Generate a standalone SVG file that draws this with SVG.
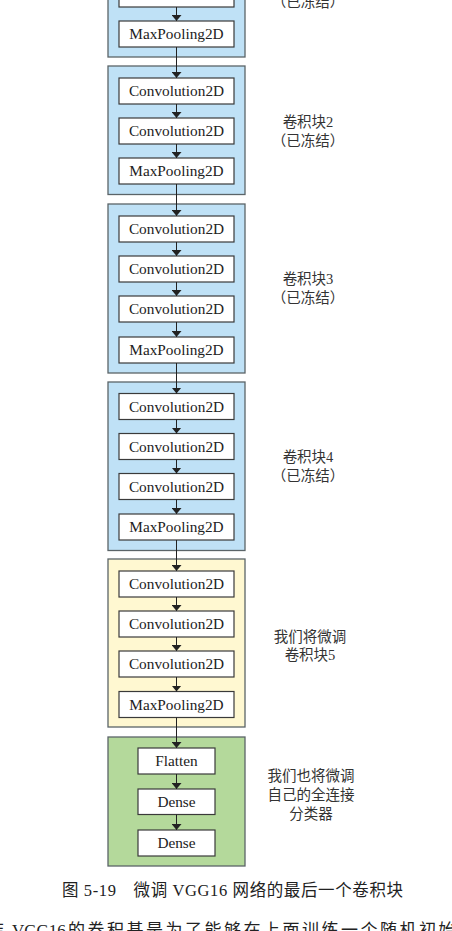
<svg xmlns="http://www.w3.org/2000/svg" width="452" height="931" viewBox="0 0 452 931">
<style>
.blue{fill:#bfe1f6;stroke:#5b6468;stroke-width:1.3}
.yellow{fill:#fff8d1;stroke:#5b6468;stroke-width:1.3}
.green{fill:#b4d99b;stroke:#5b6468;stroke-width:1.3}
.box{fill:#ffffff;stroke:#3a3a3a;stroke-width:1.2}
.t{font-family:"Liberation Serif","Noto Sans CJK SC",serif;font-size:15.3px;fill:#222;text-anchor:middle}
.lbl{font-family:"Liberation Serif","Noto Sans CJK SC",serif;font-size:14.5px;fill:#333;text-anchor:middle}
.cap{font-family:"Liberation Serif","Noto Sans CJK SC",serif;font-size:16.5px;fill:#222}
.body{font-family:"Liberation Serif","Noto Sans CJK SC",serif;font-size:17px;fill:#222}
.c{stroke:#222;stroke-width:1;fill:none;marker-end:url(#ah)}
</style>
<defs>
<marker id="ah" viewBox="0 0 6 10" refX="6" refY="5" markerWidth="6" markerHeight="10" markerUnits="userSpaceOnUse" orient="auto"><path d="M0,0 L6,5 L0,10 z" fill="#222"/></marker>
</defs>
<rect width="452" height="931" fill="#ffffff"/>

<g id="block1">
<rect class="blue" x="108" y="-60" width="137" height="117"/>
<rect class="box" x="119" y="-19" width="115" height="26"/>
<rect class="box" x="119" y="21" width="115" height="26"/>
<text class="t" x="176.5" y="39">MaxPooling2D</text>
<text class="lbl" x="308" y="7">（已冻结）</text>
</g>

<g id="block2">
<rect class="blue" x="108" y="66" width="137" height="128.5"/>
<rect class="box" x="119" y="78" width="115" height="26"/>
<text class="t" x="176.5" y="96">Convolution2D</text>
<rect class="box" x="119" y="118" width="115" height="26"/>
<text class="t" x="176.5" y="136">Convolution2D</text>
<rect class="box" x="119" y="158" width="115" height="26"/>
<text class="t" x="176.5" y="176">MaxPooling2D</text>
<text class="lbl" x="308" y="127">卷积块2</text>
<text class="lbl" x="308" y="146">（已冻结）</text>
</g>

<g id="block3">
<rect class="blue" x="108" y="204" width="137" height="169"/>
<rect class="box" x="119" y="216" width="115" height="26"/>
<text class="t" x="176.5" y="234">Convolution2D</text>
<rect class="box" x="119" y="256" width="115" height="26"/>
<text class="t" x="176.5" y="274">Convolution2D</text>
<rect class="box" x="119" y="296" width="115" height="26"/>
<text class="t" x="176.5" y="314">Convolution2D</text>
<rect class="box" x="119" y="337" width="115" height="26"/>
<text class="t" x="176.5" y="355">MaxPooling2D</text>
<text class="lbl" x="308" y="284">卷积块3</text>
<text class="lbl" x="308" y="303">（已冻结）</text>
</g>

<g id="block4">
<rect class="blue" x="108" y="382" width="137" height="168.5"/>
<rect class="box" x="119" y="393.5" width="115" height="26"/>
<text class="t" x="176.5" y="411.5">Convolution2D</text>
<rect class="box" x="119" y="433.5" width="115" height="26"/>
<text class="t" x="176.5" y="451.5">Convolution2D</text>
<rect class="box" x="119" y="473.5" width="115" height="26"/>
<text class="t" x="176.5" y="491.5">Convolution2D</text>
<rect class="box" x="119" y="514" width="115" height="26"/>
<text class="t" x="176.5" y="532">MaxPooling2D</text>
<text class="lbl" x="308" y="462">卷积块4</text>
<text class="lbl" x="308" y="481">（已冻结）</text>
</g>

<g id="block5">
<rect class="yellow" x="108" y="559" width="137" height="168"/>
<rect class="box" x="119" y="571" width="115" height="26"/>
<text class="t" x="176.5" y="589">Convolution2D</text>
<rect class="box" x="119" y="611" width="115" height="26"/>
<text class="t" x="176.5" y="629">Convolution2D</text>
<rect class="box" x="119" y="651" width="115" height="26"/>
<text class="t" x="176.5" y="669">Convolution2D</text>
<rect class="box" x="119" y="691.5" width="115" height="26"/>
<text class="t" x="176.5" y="709.5">MaxPooling2D</text>
<text class="lbl" x="310" y="642">我们将微调</text>
<text class="lbl" x="310" y="660">卷积块5</text>
</g>

<g id="block6">
<rect class="green" x="108" y="737" width="137" height="129"/>
<rect class="box" x="138" y="748" width="77" height="26"/>
<text class="t" x="176.5" y="766">Flatten</text>
<rect class="box" x="138" y="789" width="77" height="25.5"/>
<text class="t" x="176.5" y="806.5">Dense</text>
<rect class="box" x="138" y="830" width="77" height="26"/>
<text class="t" x="176.5" y="848">Dense</text>
<text class="lbl" x="311" y="781">我们也将微调</text>
<text class="lbl" x="311" y="800">自己的全连接</text>
<text class="lbl" x="311" y="819">分类器</text>
</g>

<g id="connectors">
<line class="c" x1="176.5" y1="7" x2="176.5" y2="21"/>
<line class="c" x1="176.5" y1="47" x2="176.5" y2="78"/>
<line class="c" x1="176.5" y1="104" x2="176.5" y2="118"/>
<line class="c" x1="176.5" y1="144" x2="176.5" y2="158"/>
<line class="c" x1="176.5" y1="184" x2="176.5" y2="216"/>
<line class="c" x1="176.5" y1="242" x2="176.5" y2="256"/>
<line class="c" x1="176.5" y1="282" x2="176.5" y2="296"/>
<line class="c" x1="176.5" y1="322" x2="176.5" y2="337"/>
<line class="c" x1="176.5" y1="363" x2="176.5" y2="393.5"/>
<line class="c" x1="176.5" y1="419.5" x2="176.5" y2="433.5"/>
<line class="c" x1="176.5" y1="459.5" x2="176.5" y2="473.5"/>
<line class="c" x1="176.5" y1="499.5" x2="176.5" y2="514"/>
<line class="c" x1="176.5" y1="540" x2="176.5" y2="571"/>
<line class="c" x1="176.5" y1="597" x2="176.5" y2="611"/>
<line class="c" x1="176.5" y1="637" x2="176.5" y2="651"/>
<line class="c" x1="176.5" y1="677" x2="176.5" y2="691.5"/>
<line class="c" x1="176.5" y1="717.5" x2="176.5" y2="748"/>
<line class="c" x1="176.5" y1="774" x2="176.5" y2="789"/>
<line class="c" x1="176.5" y1="814.5" x2="176.5" y2="830"/>
</g>

<text class="cap" x="62" y="896" textLength="341" lengthAdjust="spacing">图 5-19　微调 VGG16 网络的最后一个卷积块</text>
<text class="body" y="936"><tspan x="-13">结</tspan><tspan x="12">VGG16</tspan><tspan x="68" letter-spacing="2.5">的卷积基是为了能够在上面训练一个随机初始</tspan></text>
</svg>
